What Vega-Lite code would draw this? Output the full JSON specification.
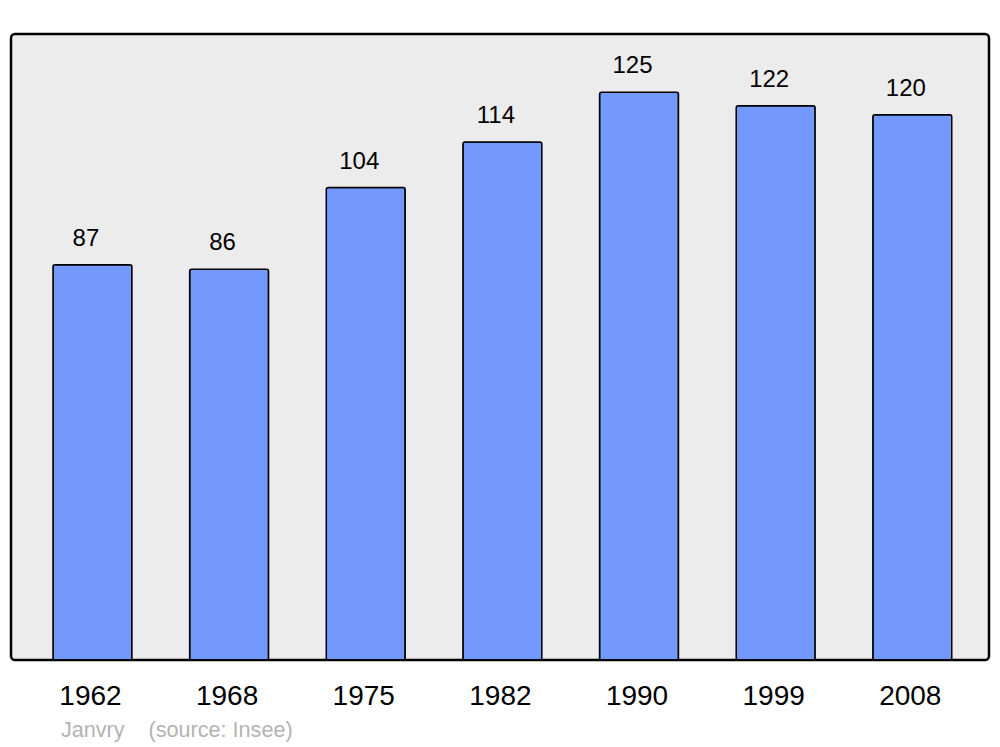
{
  "$schema": "https://vega.github.io/schema/vega-lite/v6.json",
  "width": 978,
  "height": 626,
  "autosize": "none",
  "padding": {"left": 11, "top": 34, "right": 11, "bottom": 87},
  "background": "#ffffff",
  "config": {
    "font": "Liberation Sans",
    "view": {"fill": "#ececec", "stroke": "#000000", "strokeWidth": 2.5, "cornerRadius": 4}
  },
  "title": {
    "text": "Janvry\u00a0\u00a0\u00a0\u00a0(source: Insee)",
    "orient": "bottom",
    "anchor": "start",
    "dx": 50,
    "offset": 10,
    "fontSize": 21.6,
    "fontWeight": "normal",
    "color": "#b3b3b3",
    "font": "Liberation Sans"
  },
  "data": {
    "values": [
      {"year": "1962", "pop": 87},
      {"year": "1968", "pop": 86},
      {"year": "1975", "pop": 104},
      {"year": "1982", "pop": 114},
      {"year": "1990", "pop": 125},
      {"year": "1999", "pop": 122},
      {"year": "2008", "pop": 120}
    ]
  },
  "encoding": {
    "x": {
      "field": "year",
      "type": "nominal",
      "sort": null,
      "scale": {"paddingInner": 0.4225, "paddingOuter": 0.29, "align": 0.53},
      "axis": {
        "title": null,
        "labelAngle": 0,
        "labelFontSize": 28,
        "labelColor": "#000000",
        "labelPadding": 22,
        "labelOffset": -2,
        "domain": false,
        "ticks": false,
        "labelFont": "Liberation Sans"
      }
    },
    "y": {
      "field": "pop",
      "type": "quantitative",
      "scale": {"domain": [0, 137.8], "nice": false, "zero": true},
      "axis": null
    }
  },
  "layer": [
    {
      "mark": {"type": "bar", "fill": "#7399ff", "stroke": "#000000", "strokeWidth": 1.5, "cornerRadius": 2}
    },
    {
      "mark": {"type": "text", "fontSize": 24, "dx": -6.5, "dy": -19, "baseline": "alphabetic", "color": "#000000", "font": "Liberation Sans"},
      "encoding": {"text": {"field": "pop", "type": "quantitative"}}
    }
  ]
}
